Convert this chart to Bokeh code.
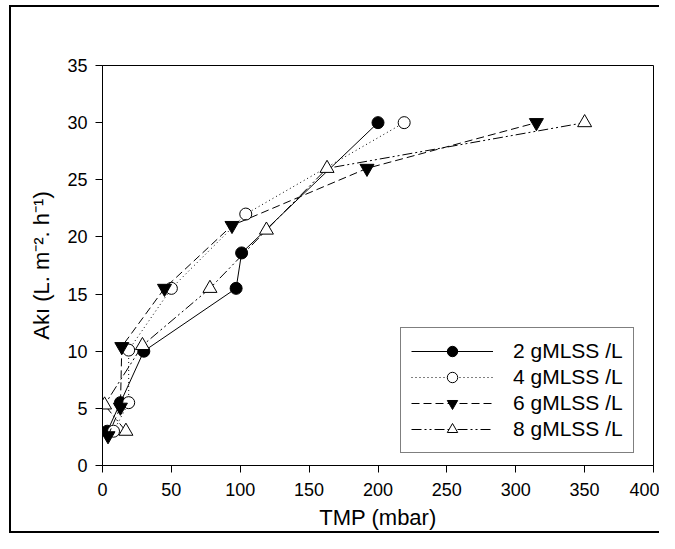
from bokeh.plotting import figure
from bokeh.models import Range1d, FixedTicker
from bokeh.embed import file_html
from bokeh.resources import INLINE

# ---- data ----
series_labels = ["2 gMLSS /L", "4 gMLSS /L", "6 gMLSS /L", "8 gMLSS /L"]

tmp_2 = [3.5, 13, 30, 97, 101, 200]
flux_2 = [3.0, 5.5, 10.0, 15.5, 18.6, 30.0]

tmp_4 = [8, 19, 19, 50, 104, 219]
flux_4 = [3.0, 5.5, 10.1, 15.5, 22.0, 30.0]

tmp_6 = [4, 13, 14, 45, 94, 192, 315]
flux_6 = [2.6, 5.1, 10.4, 15.5, 21.0, 26.0, 30.0]

tmp_8 = [17, 1.5, 29, 78, 119, 163, 350]
flux_8 = [3.0, 5.3, 10.5, 15.5, 20.6, 26.0, 30.0]

x_ticks = [0, 50, 100, 150, 200, 250, 300, 350, 400]
y_ticks = [0, 5, 10, 15, 20, 25, 30, 35]

FONT = "Liberation Sans"

p = figure(width=659, height=533, output_backend="svg", toolbar_location=None,
           x_range=Range1d(0, 400), y_range=Range1d(0, 35),
           min_border_left=102, min_border_right=6, min_border_top=65, min_border_bottom=68)

p.background_fill_color = "white"
p.border_fill_color = None
p.outline_line_color = "black"
p.outline_line_width = 1
p.xgrid.visible = False
p.ygrid.visible = False
p.styles = {"box-shadow": ("inset 9px 0 0 0 white, inset 0 5px 0 0 white, "
                           "inset 11px 0 0 0 black, inset 0 7px 0 0 black, "
                           "inset 0 -2px 0 0 black"),
            "background-color": "white"}

for ax, ticks in ((p.xaxis[0], x_ticks), (p.yaxis[0], y_ticks)):
    ax.ticker = FixedTicker(ticks=ticks)
    ax.axis_line_color = "black"
    ax.axis_line_width = 1
    ax.major_tick_line_color = "black"
    ax.major_tick_in = 0
    ax.major_tick_out = 7
    ax.minor_tick_line_color = None
    ax.major_label_text_font = FONT
    ax.major_label_text_font_size = "18px"
    ax.major_label_text_color = "black"
    ax.axis_label_text_font = FONT
    ax.axis_label_text_font_size = "22px"
    ax.axis_label_text_font_style = "normal"
    ax.axis_label_text_color = "black"

p.xaxis.axis_label = "TMP (mbar)"
p.yaxis.axis_label = "Akı (L. m⁻². h⁻¹)"
p.xaxis.major_label_standoff = 10
p.yaxis.major_label_standoff = 8
p.xaxis.axis_label_standoff = 6
p.yaxis.axis_label_standoff = 10

# series 1: solid, filled circle
p.line(tmp_2, flux_2, line_color="black", line_width=1, legend_label=series_labels[0])
p.scatter(tmp_2, flux_2, marker="circle", size=12, fill_color="black", line_color="black",
          legend_label=series_labels[0])

# series 2: dotted, open circle
p.line(tmp_4, flux_4, line_color="black", line_width=1, line_dash="1 3", legend_label=series_labels[1])
p.scatter(tmp_4, flux_4, marker="circle", size=12, fill_color="white", line_color="black",
          line_width=1, legend_label=series_labels[1])

# series 3: dashed, filled inverted triangle
p.line(tmp_6, flux_6, line_color="black", line_width=1, line_dash="8 4", legend_label=series_labels[2])
p.scatter(tmp_6, flux_6, marker="inverted_triangle", size=14, fill_color="black", line_color="black",
          legend_label=series_labels[2])

# series 4: dash-dot-dot, open triangle
p.line(tmp_8, flux_8, line_color="black", line_width=1, line_dash="10 3 2 3 2 3", legend_label=series_labels[3])
p.scatter(tmp_8, flux_8, marker="triangle", size=14, fill_color="white", line_color="black",
          line_width=1, legend_label=series_labels[3])

lg = p.legend[0]
lg.location = (298, 12)
lg.border_line_color = "black"
lg.border_line_width = 1
lg.background_fill_color = "white"
lg.background_fill_alpha = 1
lg.padding = 10
lg.spacing = 0
lg.margin = 0
lg.glyph_width = 82
lg.glyph_height = 26
lg.label_height = 26
lg.label_standoff = 20
lg.label_width = 108
lg.label_text_font = FONT
lg.label_text_font_size = "21px"
lg.label_text_color = "black"

open("out.html", "w").write(file_html(p, INLINE))
